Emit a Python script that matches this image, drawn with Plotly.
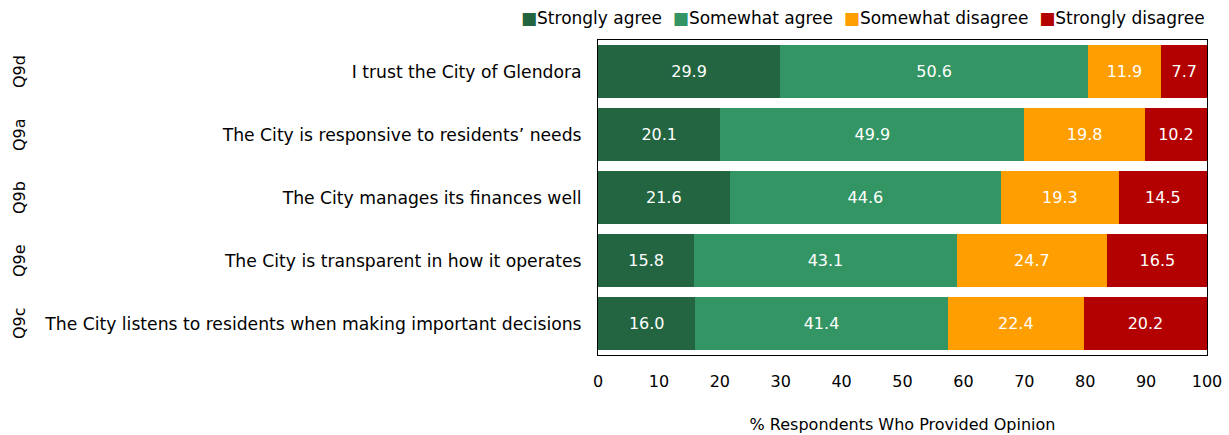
import plotly.graph_objects as go

# Survey items (top to bottom) and their question codes
items = [
    "I trust the City of Glendora",
    "The City is responsive to residents’ needs",
    "The City manages its finances well",
    "The City is transparent in how it operates",
    "The City listens to residents when making important decisions",
]
codes = ["Q9d", "Q9a", "Q9b", "Q9e", "Q9c"]

strongly_agree = [29.9, 20.1, 21.6, 15.8, 16.0]
somewhat_agree = [50.6, 49.9, 44.6, 43.1, 41.4]
somewhat_disagree = [11.9, 19.8, 19.3, 24.7, 22.4]
strongly_disagree = [7.7, 10.2, 14.5, 16.5, 20.2]

series = [
    ("Strongly agree", strongly_agree, "#236541"),
    ("Somewhat agree", somewhat_agree, "#339563"),
    ("Somewhat disagree", somewhat_disagree, "#FF9E00"),
    ("Strongly disagree", strongly_disagree, "#B30000"),
]

FONT = "DejaVu Sans"

fig = go.Figure()
for name, vals, color in series:
    fig.add_trace(go.Bar(
        y=items, x=vals, name=name, orientation="h",
        marker=dict(color=color, line=dict(width=0)),
        text=[f"{v:.1f}" for v in vals], textposition="inside",
        insidetextanchor="middle",
        textfont=dict(color="white", size=16, family=FONT),
        showlegend=False,
    ))

# Compact legend row above the plot: coloured squares followed by names
legend_text = "  ".join(
    f"<span style='color:{color}'>■</span>{name}" for name, _, color in series
)
fig.add_annotation(
    x=1, xref="paper", xanchor="right", y=1, yref="paper", yanchor="middle",
    yshift=22, text=legend_text, showarrow=False,
    font=dict(size=17, color="black", family=FONT),
)

# Rotated question codes on the far left
for code, item in zip(codes, items):
    fig.add_annotation(
        x=0, xref="paper", xshift=-590, y=item, yref="y",
        text=code, textangle=-90, showarrow=False,
        font=dict(size=16, color="black", family=FONT),
    )

fig.update_layout(
    barmode="stack", bargap=0.16,
    width=1229, height=435,
    margin=dict(l=598, r=22, t=40, b=80, autoexpand=False),
    paper_bgcolor="white", plot_bgcolor="white",
    font=dict(family=FONT, size=16, color="black"),
    showlegend=False,
    uniformtext=dict(minsize=8, mode="show"),
)
fig.update_xaxes(range=[0, 100], dtick=10, showgrid=False, zeroline=False,
                 showline=True, mirror=True, linecolor="black", linewidth=1,
                 ticks="", ticklabelstandoff=12, automargin=False,
                 title=dict(text="% Respondents Who Provided Opinion", standoff=28,
                            font=dict(size=16)),
                 tickfont=dict(size=16))
fig.update_yaxes(categoryorder="array", categoryarray=items[::-1],
                 autorange=True, showgrid=False, zeroline=False, automargin=False,
                 showline=True, mirror=True, linecolor="black", linewidth=1,
                 ticks="", ticklabelstandoff=12, tickfont=dict(size=17.2))

fig.write_html("out.html")
